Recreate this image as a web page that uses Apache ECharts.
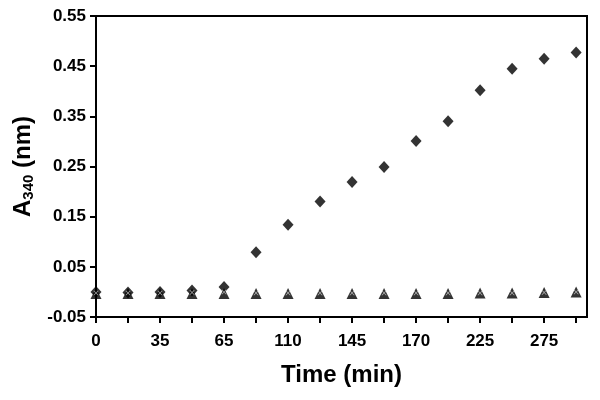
<!DOCTYPE html>
<html>
<head>
<meta charset="utf-8">
<script src="https://cdn.jsdelivr.net/npm/echarts@6/dist/echarts.min.js"></script>
<style>
  html, body { margin: 0; padding: 0; background: #fff; }
  #chart { width: 600px; height: 400px; }
</style>
</head>
<body>
<div id="chart"></div>
<script>
// x positions are sample numbers 0..15, only every second one is labelled
const timeLabels = ['0', '35', '65', '110', '145', '170', '225', '275'];
const yTicks = [-0.05, 0.05, 0.15, 0.25, 0.35, 0.45, 0.55];

// filled diamonds
const diamondVals = [0.0, -0.001, 0.0, 0.003, 0.01, 0.079, 0.134, 0.18, 0.219, 0.249, 0.301, 0.34, 0.402, 0.445, 0.465, 0.477];
// filled triangles
const triangleVals = [-0.003, -0.003, -0.003, -0.003, -0.003, -0.003, -0.003, -0.003, -0.003, -0.003, -0.003, -0.003, -0.002, -0.002, -0.001, 0.0];
// small crosses drawn on top of the triangles
const crossVals = [-0.002, -0.002, -0.002, -0.001, 0.0, -0.002, -0.002, -0.002, -0.002, -0.002, -0.002, -0.002, -0.002, -0.002, -0.001, 0.0];

const toPts = arr => arr.map((v, i) => [i, v]);
const idx = diamondVals.map((v, i) => i);
const labelIdx = idx.filter(i => i % 2 === 0);

const font = 'Liberation Sans, Arial, sans-serif';
const chart = echarts.init(document.getElementById('chart'));

chart.setOption({
  animation: false,
  grid: {
    left: 96, right: 13, top: 16, bottom: 83,
    show: true, borderColor: '#000', borderWidth: 2
  },
  xAxis: {
    type: 'value',
    min: 0,
    max: 15.34,
    name: 'Time (min)',
    nameLocation: 'middle',
    nameGap: 46,
    nameTextStyle: { fontFamily: font, fontWeight: 'bold', fontSize: 24, color: '#000' },
    splitLine: { show: false },
    axisLine: { onZero: false, lineStyle: { color: '#000', width: 2 } },
    axisTick: { customValues: idx, length: 6, lineStyle: { color: '#000', width: 2 } },
    axisLabel: {
      customValues: labelIdx,
      margin: 16,
      fontFamily: font, fontWeight: 'bold', fontSize: 17, color: '#000',
      formatter: v => timeLabels[v / 2]
    }
  },
  yAxis: {
    type: 'value',
    min: -0.05,
    max: 0.55,
    name: '{a|A}{s|340}{a| (nm)}',
    nameLocation: 'middle',
    nameGap: 55,
    nameTextStyle: {
      color: '#000',
      rich: {
        a: { fontFamily: font, fontWeight: 'bold', fontSize: 24, color: '#000' },
        s: { fontFamily: font, fontWeight: 'bold', fontSize: 15, color: '#000', padding: [11, 0, 0, 0] }
      }
    },
    splitLine: { show: false },
    axisLine: { onZero: false, lineStyle: { color: '#000', width: 2 } },
    axisTick: { customValues: yTicks, length: 6, lineStyle: { color: '#000', width: 2 } },
    axisLabel: {
      customValues: yTicks,
      margin: 10,
      fontFamily: font, fontWeight: 'bold', fontSize: 17, color: '#000',
      formatter: v => v.toFixed(2)
    }
  },
  series: [
    {
      name: 'diamond',
      type: 'scatter',
      data: toPts(diamondVals),
      symbol: 'diamond',
      symbolSize: [11, 12],
      itemStyle: { color: '#000' }
    },
    {
      name: 'triangle',
      type: 'scatter',
      data: toPts(triangleVals),
      symbol: 'triangle',
      symbolSize: [11, 11],
      itemStyle: { color: '#000' }
    },
    {
      name: 'cross',
      type: 'scatter',
      data: toPts(crossVals),
      symbol: 'path://M0,1L1,0L5,4L9,0L10,1L6,5L10,9L9,10L5,6L1,10L0,9L4,5Z',
      symbolSize: 5,
      itemStyle: { color: '#d0d0d0' }
    }
  ]
});
</script>
</body>
</html>
